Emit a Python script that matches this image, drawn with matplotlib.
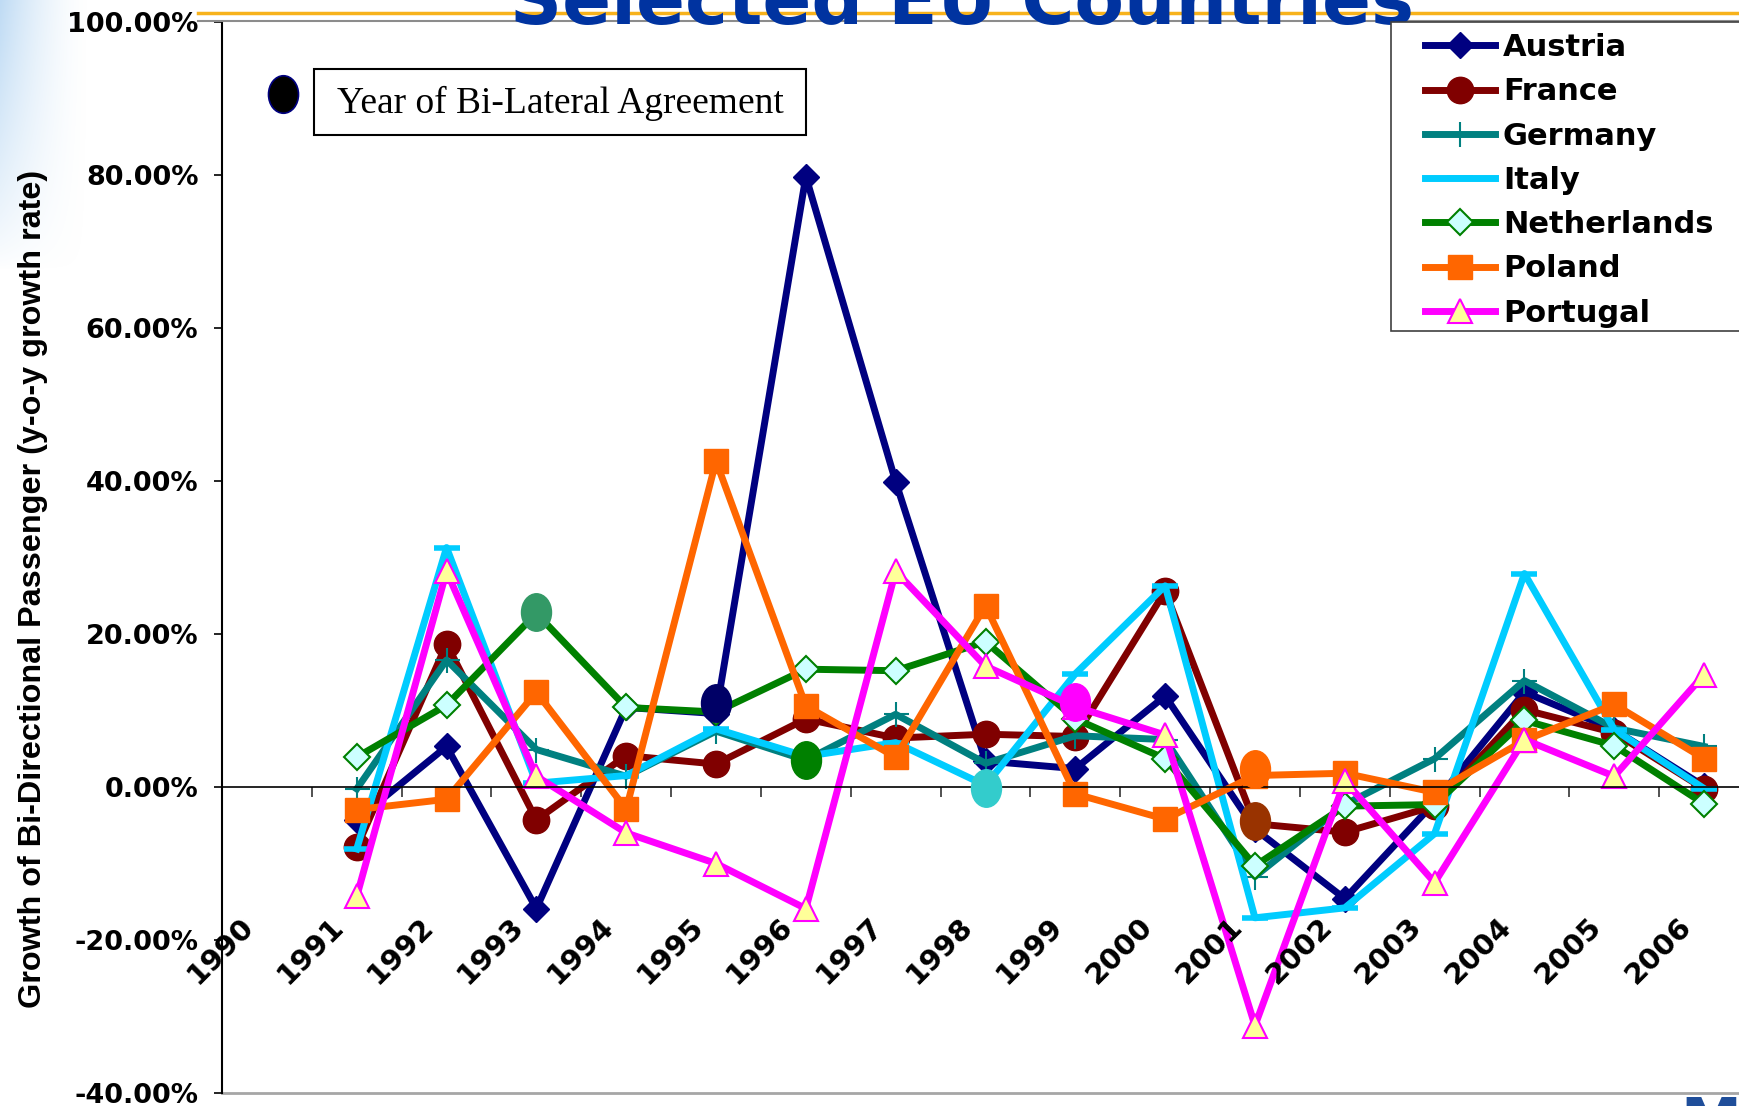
import numpy as np
import matplotlib
matplotlib.use('Agg')
import matplotlib.pyplot as plt
from matplotlib.path import Path
from matplotlib.transforms import Affine2D
from matplotlib.lines import Line2D
from matplotlib.patches import Rectangle

# category axis and yearly growth rates (%)
years = list(range(1990, 2007))
data_years = years[1:]

austria = [-4.3, 5.3, -15.9, 10.4, 9.6, 79.8, 39.9, 3.4, 2.4, 11.9, -5.5, -14.6, -2.0, 12.4, 7.5, 0.1]
france = [-7.9, 18.7, -4.3, 4.1, 3.0, 8.9, 6.4, 6.9, 6.6, 25.6, -4.8, -5.9, -2.5, 10.1, 7.1, -0.25]
germany = [-0.25, 16.6, 4.9, 1.4, 7.3, 3.5, 9.5, 3.1, 6.7, 6.2, -11.7, -2.3, 3.7, 13.9, 7.7, 5.3]
italy = [-8.1, 31.3, 0.5, 1.5, 7.6, 4.0, 5.8, 0.2, 14.8, 26.3, -17.1, -15.8, -6.1, 27.9, 7.5, -0.2]
netherlands = [3.9, 10.7, 22.7, 10.4, 9.8, 15.4, 15.2, 19.0, 8.9, 3.7, -10.3, -2.5, -2.3, 8.7, 5.4, -2.2]
poland = [-2.95, -1.6, 12.4, -2.9, 42.6, 10.6, 3.9, 23.7, -0.9, -4.2, 1.5, 1.8, -0.7, 6.1, 10.8, 3.7]
portugal = [-14.3, 28.2, 1.4, -6.0, -10.0, -15.9, 28.2, 15.8, 10.5, 6.8, -31.2, 0.8, -12.5, 6.2, 1.4, 14.7]

# years of bi-lateral agreements
agree_years = [1993, 1995, 1996, 1998, 1999, 2001, 2001]
agree_values = [22.9, 11.0, 3.5, -0.1, 11.1, 2.3, -4.5]
agree_colors = ['#339966', '#000066', '#008000', '#33CCCC', '#FF00FF', '#FF6600', '#993300']

y_ticks = [-40, -20, 0, 20, 40, 60, 80, 100]

W, H = 1739, 1106


def fx(px):
    return px / W


def fy(py):
    return 1 - py / H


styles = [
    ('Austria', austria, dict(color='#000080', marker='D', ms=13, mfc='#000080', mec='#000080')),
    ('France', france, dict(color='#800000', marker='o', ms=19, mfc='#800000', mec='#800000')),
    ('Germany', germany, dict(color='#008080', marker='+', ms=18, mew=1.5)),
    ('Italy', italy, dict(color='#00CCFF', marker='_', ms=19, mew=4)),
    ('Netherlands', netherlands, dict(color='#008000', marker='D', ms=13, mfc='#CCFFFF', mec='#008000', mew=1.5)),
    ('Poland', poland, dict(color='#FF6600', marker='s', ms=17.5, mfc='#FF6600', mec='#FF6600')),
    ('Portugal', portugal, dict(color='#FF00FF', marker='^', ms=17, mfc='#FFFF99', mec='#FF00FF', mew=1.5)),
]

fig = plt.figure(figsize=(W / 100, H / 100), dpi=100)
fig.patch.set_facecolor('white')

# light blue corner of the slide background
grad = fig.add_axes([0, fy(270), fx(90), 270 / H])
gx = np.linspace(0, 1, 90)
gy = np.linspace(0, 1, 270)
GX, GY = np.meshgrid(gx, gy)
rgba = np.zeros((270, 90, 4))
rgba[..., 0] = 0.75
rgba[..., 1] = 0.86
rgba[..., 2] = 0.96
rgba[..., 3] = np.clip((1 - GX) ** 1.6 * (1 - GY) ** 0.8, 0, 1)
grad.imshow(rgba, aspect='auto', extent=(0, 1, 0, 1), origin='upper')
grad.axis('off')

ax = fig.add_axes([fx(222), fy(1093), (1749 - 222) / W, (1093 - 22) / H])
ax.set_facecolor('none')

xs = [y - years[0] for y in data_years]
handles = []
for name, vals, st in styles:
    ln, = ax.plot(xs, vals, lw=5, label=name, **st)
    handles.append(ln)

# agreement markers as tall ellipses
ellipse = Path.unit_circle().transformed(Affine2D().scale(0.8, 1.0))
for yr, val, col in zip(agree_years, agree_values, agree_colors):
    ax.plot([yr - years[0]], [val], ls='none', marker=ellipse, ms=27,
            mfc=col, mec=col, zorder=5)

ax.set_xlim(-0.5, len(years) - 0.5)
ax.set_ylim(y_ticks[0], y_ticks[-1])

for s in ['top', 'right']:
    ax.spines[s].set_visible(False)
ax.spines['bottom'].set_position(('data', 0))
ax.spines['bottom'].set_linewidth(1.2)
ax.spines['left'].set_linewidth(1.5)

ax.set_xticks(np.arange(0.5, len(years) - 0.5, 1))
ax.tick_params(axis='x', direction='out', length=7, width=1.2, color='#333333', labelbottom=False)
ax.set_yticks(y_ticks)
ax.set_yticklabels([f'{v:.2f}%' for v in y_ticks], fontsize=19.5, fontweight='bold')
ax.tick_params(axis='y', direction='out', length=6, width=1.2, pad=11)

for i, yr in enumerate(years):
    ax.text(i - 0.08, -16.4, str(yr), rotation=45, ha='right', va='top',
            fontsize=21, fontweight='bold')

ax.axhline(y_ticks[0], color='#A6A6A6', lw=2, clip_on=False)

fig.text(fx(33), fy(589), 'Growth of Bi-Directional Passenger (y-o-y growth rate)',
         rotation=90, ha='center', va='center', family='Liberation Sans',
         fontweight='bold', fontsize=23.3)

# slide header lines and title
fig.add_artist(Line2D([fx(198), 1], [fy(13), fy(13)], color='#F7B21B', lw=2.5,
                      transform=fig.transFigure))
fig.add_artist(Line2D([fx(198), 1], [fy(21), fy(21)], color='#8C8C8C', lw=1.5,
                      transform=fig.transFigure))
fig.text(fx(962), fy(24), 'Selected EU Countries', ha='center', va='baseline',
         fontsize=52, fontweight='bold', color='#0033A0', zorder=2)

# legend box
fig.add_artist(Rectangle((fx(1391), fy(331)), (1760 - 1391) / W, (331 - 22) / H,
                         transform=fig.transFigure, facecolor='white',
                         edgecolor='#404040', lw=1.2, zorder=3))
fig.legend(handles, [s[0] for s in styles], loc='upper left',
           bbox_to_anchor=(fx(1425), fy(33)), frameon=False,
           prop=dict(size=22, weight='bold'), handlelength=2.3,
           handletextpad=0.25, labelspacing=0.5, borderpad=0, borderaxespad=0)

# note box for agreement years
fig.add_artist(Rectangle((fx(314), fy(135)), (806 - 314) / W, (135 - 69) / H,
                         transform=fig.transFigure, facecolor='white',
                         edgecolor='black', lw=1.5, zorder=3))
fig.text(fx(560), fy(103), 'Year of Bi-Lateral Agreement', ha='center', va='center',
         family='Liberation Serif', fontsize=27, zorder=4)
fig.add_artist(Line2D([fx(283)], [fy(94)], ls='none', marker=ellipse, ms=27,
                      mfc='black', mec='#000080', mew=1.2, transform=fig.transFigure))

fig.text(fx(1680), fy(1095), 'MU', ha='left', va='top', fontsize=44,
         fontweight='bold', color='#1F4E9A')

fig.savefig('out.png', dpi=100)
